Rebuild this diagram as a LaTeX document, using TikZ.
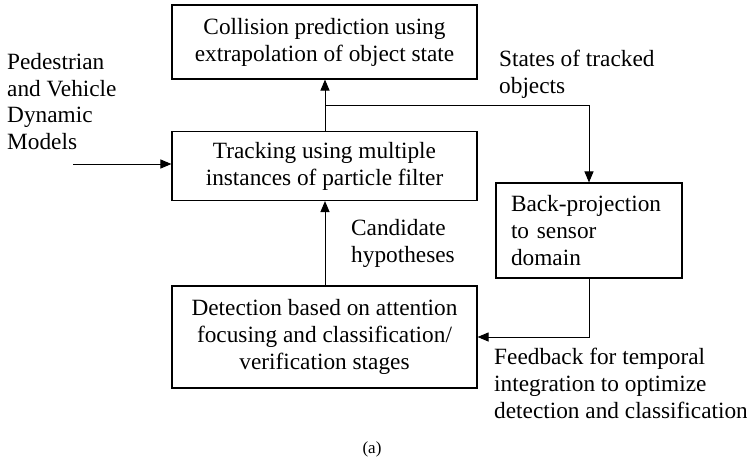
\documentclass[tikz,border=0pt]{standalone}
\usepackage{fontspec}
\setmainfont{Liberation Serif}
\usetikzlibrary{arrows.meta}
\begin{document}
\begin{tikzpicture}[x=1pt,y=-1pt,
  every node/.style={font=\fontsize{23.3}{26.8}\selectfont},
  blk/.style={draw,line width=1.1pt,inner sep=0pt},
  lbl/.style={align=left,inner sep=0pt,anchor=north west},
  conn/.style={line width=1pt,-{Triangle[length=11pt,width=9pt]}}]
\useasboundingbox (0,0) rectangle (747,464);
% process boxes
\node[blk,minimum width=305pt,minimum height=74pt,align=center] (col) at (324.5,42)
  {Collision prediction using\\extrapolation of object state};
\node[blk,minimum width=305pt,minimum height=69pt,align=center] (trk) at (324.5,166)
  {Tracking using multiple\\instances of particle filter};
\node[blk,minimum width=186pt,minimum height=95pt,align=left,text width=156pt] (bp) at (589,230.5)
  {Back-projection\\to sensor\\domain};
\node[blk,minimum width=305pt,minimum height=102pt,align=center] (det) at (324.5,337)
  {Detection based on attention\\focusing and classification/\\verification stages};
% free labels
\node[lbl] (ped) at (7,53) {Pedestrian\\and Vehicle\\Dynamic\\Models};
\node[lbl] (st) at (499,50) {States of tracked\\objects};
\node[lbl] (cand) at (351,219) {Candidate\\hypotheses};
\node[lbl] (fb) at (494,348) {Feedback for temporal\\integration to optimize\\detection and classification};
\node[font=\fontsize{17}{19}\selectfont,inner sep=0pt] (cap) at (372,449) {(a)};
% connectors
\coordinate (pin) at (73,164);
\coordinate (split) at (325,105);
\draw[conn] (pin) -- (trk.west |- pin);
\draw[conn] (trk.north -| split) -- (col.south -| split);
\draw[conn] (split) -| (bp.north);
\draw[conn] (det.north -| split) -- (trk.south -| split);
\draw[conn] (bp.south) |- (det.east |- 0,337);
\end{tikzpicture}
\end{document}
